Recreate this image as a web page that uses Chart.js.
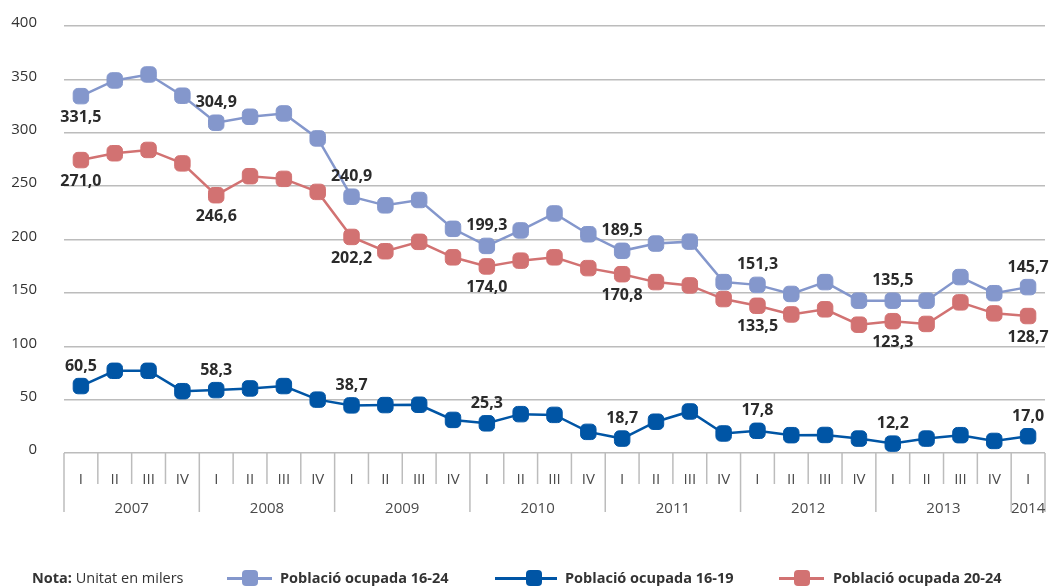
<!DOCTYPE html>
<html>
<head>
<meta charset="utf-8">
<script src="https://cdn.jsdelivr.net/npm/chart.js@4.4.1/dist/chart.umd.min.js"></script>
<style>
  body { margin: 0; background: #fff; font-family: "Open Sans", sans-serif; }
  #wrap { position: relative; width: 1055px; height: 587px; }
  .leg { position: absolute; top: 569px; height: 18px; line-height: 18px; font-size: 14.5px; color: #333; white-space: nowrap; }
  .leg b { font-weight: 700; }
  .mk { position: absolute; top: 569px; height: 18px; }
  .mk .ln { position: absolute; left: 0; right: 0; top: 8px; height: 2.5px; }
  .mk .sq { position: absolute; top: 1px; width: 16px; height: 16px; border-radius: 4px; }
</style>
</head>
<body>
<div id="wrap">
  <canvas id="grafic" width="1055" height="587"></canvas>
</div>
<script>
// Trimestres i anys (2007 I - 2014 I)
const trimestres = ['I','II','III','IV','I','II','III','IV','I','II','III','IV','I','II','III','IV',
                    'I','II','III','IV','I','II','III','IV','I','II','III','IV','I'];
const anys = ['2007','2007','2007','2007','2008','2008','2008','2008','2009','2009','2009','2009',
              '2010','2010','2010','2010','2011','2011','2011','2011','2012','2012','2012','2012',
              '2013','2013','2013','2013','2014'];

// Valors (milers)
const ocupada1624 = [334.3, 349, 354.6, 334.7, 309.4, 315, 318.1, 294.7, 240.1, 232, 237, 210, 194, 208.5,
                     224.4, 204.9, 189.4, 196.2, 198, 160.1, 157.5, 149, 160.1, 142.7, 142.7, 142.7, 164.8, 149.7, 155.4];
const ocupada1619 = [62.7, 77, 77, 57.9, 58.9, 60.5, 62.7, 50, 44.6, 44.9, 45.2, 31, 27.8, 36.4,
                     35.7, 19.8, 13.5, 29.3, 38.9, 18.3, 20.8, 16.7, 16.9, 13.5, 8.8, 13.5, 16.7, 11.3, 15.7];
const ocupada2024 = [274.4, 280.8, 283.9, 271.3, 241.5, 259.3, 256.8, 244.6, 202.4, 189, 197.8, 183.3, 174.8, 180.2,
                     183.3, 173.2, 167.5, 160.1, 157, 144.2, 137.9, 129.8, 134.6, 120.2, 123.5, 120.9, 141.1, 130.8, 128.3];

// Etiquetes que es mostren (només primer trimestre)
const etiq1624 = ['331,5',null,null,null,'304,9',null,null,null,'240,9',null,null,null,'199,3',null,null,null,
                  '189,5',null,null,null,'151,3',null,null,null,'135,5',null,null,null,'145,7'];
const etiq1619 = ['60,5',null,null,null,'58,3',null,null,null,'38,7',null,null,null,'25,3',null,null,null,
                  '18,7',null,null,null,'17,8',null,null,null,'12,2',null,null,null,'17,0'];
const etiq2024 = ['271,0',null,null,null,'246,6',null,null,null,'202,2',null,null,null,'174,0',null,null,null,
                  '170,8',null,null,null,'133,5',null,null,null,'123,3',null,null,null,'128,7'];

const nomsSeries = ['Població ocupada 16-24', 'Població ocupada 16-19', 'Població ocupada 20-24'];
const colors = ['#8497CC', '#0055A5', '#D27272'];

// Eix X de dos nivells (trimestre / any)
const eixTrimestral = {
  id: 'eixTrimestral',
  afterDraw(chart) {
    const { ctx, chartArea, scales: { x } } = chart;
    const y0 = chartArea.bottom;
    const w = x.getPixelForValue(1) - x.getPixelForValue(0);
    ctx.save();
    ctx.strokeStyle = '#bcbcbc';
    ctx.lineWidth = 1.5;
    ctx.fillStyle = '#4a4a4a';
    ctx.font = '15px "Open Sans"';
    ctx.textAlign = 'center';
    ctx.textBaseline = 'middle';
    trimestres.forEach((t, i) => {
      const xc = x.getPixelForValue(i);
      const esq = xc - w / 2;
      const nouAny = i === 0 || anys[i] !== anys[i - 1];
      ctx.beginPath();
      ctx.moveTo(esq, y0);
      ctx.lineTo(esq, y0 + (nouAny ? 59 : 31));
      ctx.stroke();
      ctx.fillText(t, xc, y0 + 27);
    });
    const ultim = x.getPixelForValue(trimestres.length - 1) + w / 2;
    ctx.beginPath();
    ctx.moveTo(ultim, y0);
    ctx.lineTo(ultim, y0 + 59);
    ctx.stroke();
    // anys
    let inici = 0;
    for (let i = 1; i <= anys.length; i++) {
      if (i === anys.length || anys[i] !== anys[inici]) {
        const xa = (x.getPixelForValue(inici) + x.getPixelForValue(i - 1)) / 2;
        ctx.fillText(anys[inici], xa, y0 + 56);
        inici = i;
      }
    }
    ctx.restore();
  }
};

// Etiquetes de dades
const etiquetes = {
  id: 'etiquetes',
  afterDatasetsDraw(chart) {
    const { ctx } = chart;
    ctx.save();
    ctx.font = 'bold 16px "Open Sans"';
    ctx.fillStyle = '#2b2b2b';
    ctx.textAlign = 'center';
    ctx.textBaseline = 'middle';
    chart.data.datasets.forEach((ds, di) => {
      const meta = chart.getDatasetMeta(di);
      ds.etiquetes.forEach((txt, i) => {
        if (!txt) return;
        const p = meta.data[i];
        const sota = ds.sota.includes(i);
        ctx.fillText(txt, p.x, p.y + (sota ? 21 : -20));
      });
    });
    ctx.restore();
  }
};

function serie(nom, dades, etiq, color, sota) {
  return {
    label: nom,
    data: dades,
    etiquetes: etiq,
    sota: sota,
    borderColor: color,
    backgroundColor: color,
    borderWidth: 2.5,
    pointStyle: 'rectRounded',
    pointRadius: 9,
    pointHoverRadius: 9,
    pointBackgroundColor: color,
    pointBorderColor: color,
    pointBorderWidth: 1,
    tension: 0,
    clip: false
  };
}

const totsIndex = etiq2024.map((e, i) => i);

new Chart(document.getElementById('grafic'), {
  type: 'line',
  data: {
    labels: trimestres,
    datasets: [
      serie(nomsSeries[0], ocupada1624, etiq1624, colors[0], [0]),
      serie(nomsSeries[2], ocupada2024, etiq2024, colors[2], totsIndex),
      serie(nomsSeries[1], ocupada1619, etiq1619, colors[1], [])
    ]
  },
  options: {
    responsive: false,
    animation: false,
    layout: { padding: { left: 0, right: 4, top: 26, bottom: 134 } },
    plugins: { legend: { display: false }, tooltip: { enabled: false } },
    scales: {
      x: { type: 'category', offset: true, display: false },
      y: {
        min: 0, max: 400,
        afterFit(scale) {
          scale.width = 64;
          scale.paddingTop = 10;
          scale.paddingBottom = 10;
        },
        ticks: { stepSize: 50, padding: 27, labelOffset: -3, color: '#333', font: { family: 'Open Sans', size: 15 } },
        grid: { color: '#bcbcbc', lineWidth: 1.5, drawTicks: false },
        border: { display: false }
      }
    }
  },
  plugins: [eixTrimestral, etiquetes]
});

// Llegenda (HTML)
const wrap = document.getElementById('wrap');
const nota = document.createElement('div');
nota.className = 'leg';
nota.style.left = '32px';
nota.innerHTML = '<b>Nota:</b> Unitat en milers';
wrap.appendChild(nota);

const posLlegenda = [
  { ln: 227, w: 45, txt: 280 },
  { ln: 495, w: 62, txt: 565 },
  { ln: 779, w: 45, txt: 833 }
];
const ordreLlegenda = [0, 1, 2];
ordreLlegenda.forEach((s, k) => {
  const p = posLlegenda[k];
  const mk = document.createElement('div');
  mk.className = 'mk';
  mk.style.left = p.ln + 'px';
  mk.style.width = p.w + 'px';
  const sqLeft = k === 1 ? 31 : p.w / 2 - 8;
  mk.innerHTML = '<div class="ln" style="background:' + colors[s] + '"></div>' +
                 '<div class="sq" style="left:' + sqLeft + 'px;background:' + colors[s] + '"></div>';
  wrap.appendChild(mk);
  const t = document.createElement('div');
  t.className = 'leg';
  t.style.left = p.txt + 'px';
  t.innerHTML = '<b>' + nomsSeries[s] + '</b>';
  wrap.appendChild(t);
});
</script>
</body>
</html>
